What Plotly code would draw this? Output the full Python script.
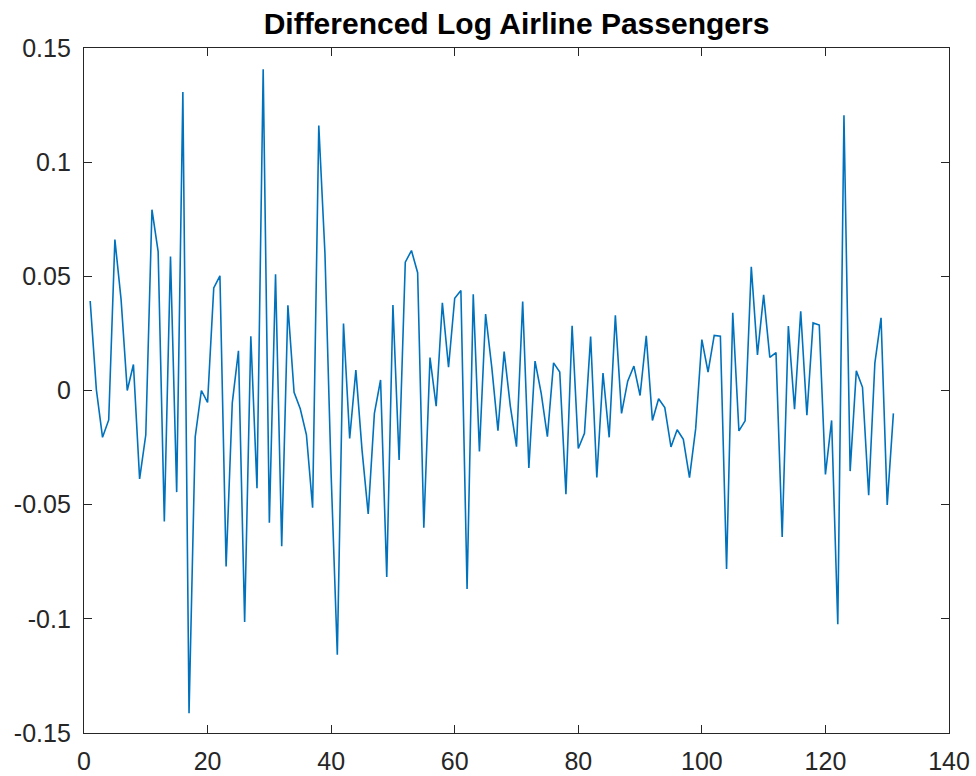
import plotly.graph_objects as go

# Differenced (seasonal + first) log airline passengers, observations 1..131
dy = [
 0.0392, 0.0004, -0.0205, -0.0129, 0.0661, 0.0399, 0.0000, 0.0114, -0.0387, -0.0194,
 0.0792, 0.0608, -0.0574, 0.0587, -0.0445, 0.1307, -0.1413, -0.0203, 0.0000, -0.0052,
 0.0449, 0.0502, -0.0771, -0.0054, 0.0174, -0.1014, 0.0238, -0.0428, 0.1407, -0.0579,
 0.0509, -0.0682, 0.0373, -0.0008, -0.0080, -0.0194, -0.0513, 0.1160, 0.0599, -0.0369,
 -0.1157, 0.0293, -0.0210, 0.0089, -0.0261, -0.0541, -0.0100, 0.0046, -0.0817, 0.0374,
 -0.0304, 0.0562, 0.0613, 0.0516, -0.0601, 0.0144, -0.0069, 0.0384, 0.0102, 0.0404,
 0.0438, -0.0869, 0.0421, -0.0267, 0.0335, 0.0101, -0.0176, 0.0170, -0.0068, -0.0246,
 0.0390, -0.0339, 0.0129, -0.0013, -0.0202, 0.0121, 0.0081, -0.0454, 0.0283, -0.0254,
 -0.0187, 0.0236, -0.0381, 0.0076, -0.0205, 0.0329, -0.0100, 0.0041, 0.0107, -0.0022,
 0.0239, -0.0131, -0.0036, -0.0075, -0.0247, -0.0172, -0.0214, -0.0382, -0.0167, 0.0223,
 0.0081, 0.0241, 0.0238, -0.0782, 0.0340, -0.0177, -0.0133, 0.0542, 0.0156, 0.0419,
 0.0145, 0.0166, -0.0642, 0.0282, -0.0082, 0.0347, -0.0108, 0.0296, 0.0287, -0.0368,
 -0.0131, -0.1024, 0.1205, -0.0353, 0.0086, 0.0014, -0.0459, 0.0120, 0.0318, -0.0501,
 -0.0100,
]
t = list(range(1, len(dy) + 1))

x_ticks = [0, 20, 40, 60, 80, 100, 120, 140]
y_ticks = [-0.15, -0.1, -0.05, 0, 0.05, 0.1, 0.15]
y_tick_labels = ["-0.15", "-0.1", "-0.05", "0", "0.05", "0.1", "0.15"]

axis_color = "#262626"
font_family = "Liberation Sans, Arial, sans-serif"

fig = go.Figure()
fig.add_trace(go.Scatter(x=t, y=dy, mode="lines",
                         line=dict(color="#0072BD", width=1.6),
                         showlegend=False, hoverinfo="skip"))

common = dict(showgrid=False, zeroline=False, showline=True, linecolor=axis_color,
              linewidth=1.3, mirror="ticks", ticks="inside", ticklen=8, tickwidth=1.3,
              tickcolor=axis_color, automargin=False, ticklabeloverflow="allow",
              tickfont=dict(family=font_family, size=25, color=axis_color))

fig.update_xaxes(range=[0, 140], tickvals=x_ticks, ticktext=[str(v) for v in x_ticks],
                 ticklabelstandoff=6, **common)
fig.update_yaxes(range=[-0.15, 0.15], tickvals=y_ticks, ticktext=y_tick_labels,
                 ticklabelstandoff=7, **common)

fig.update_layout(
    width=976, height=776,
    margin=dict(l=84, r=27, t=48, b=43),
    paper_bgcolor="white", plot_bgcolor="white",
    title=dict(text="<b>Differenced Log Airline Passengers</b>", x=0.5, xref="paper",
               xanchor="center", y=1 - 23 / 776, yanchor="middle",
               font=dict(family=font_family, size=30, color="#000000")),
)

fig.write_html("out.html", config={"displayModeBar": False},
               post_script="document.body.style.margin='0';document.body.style.overflow='hidden';")
